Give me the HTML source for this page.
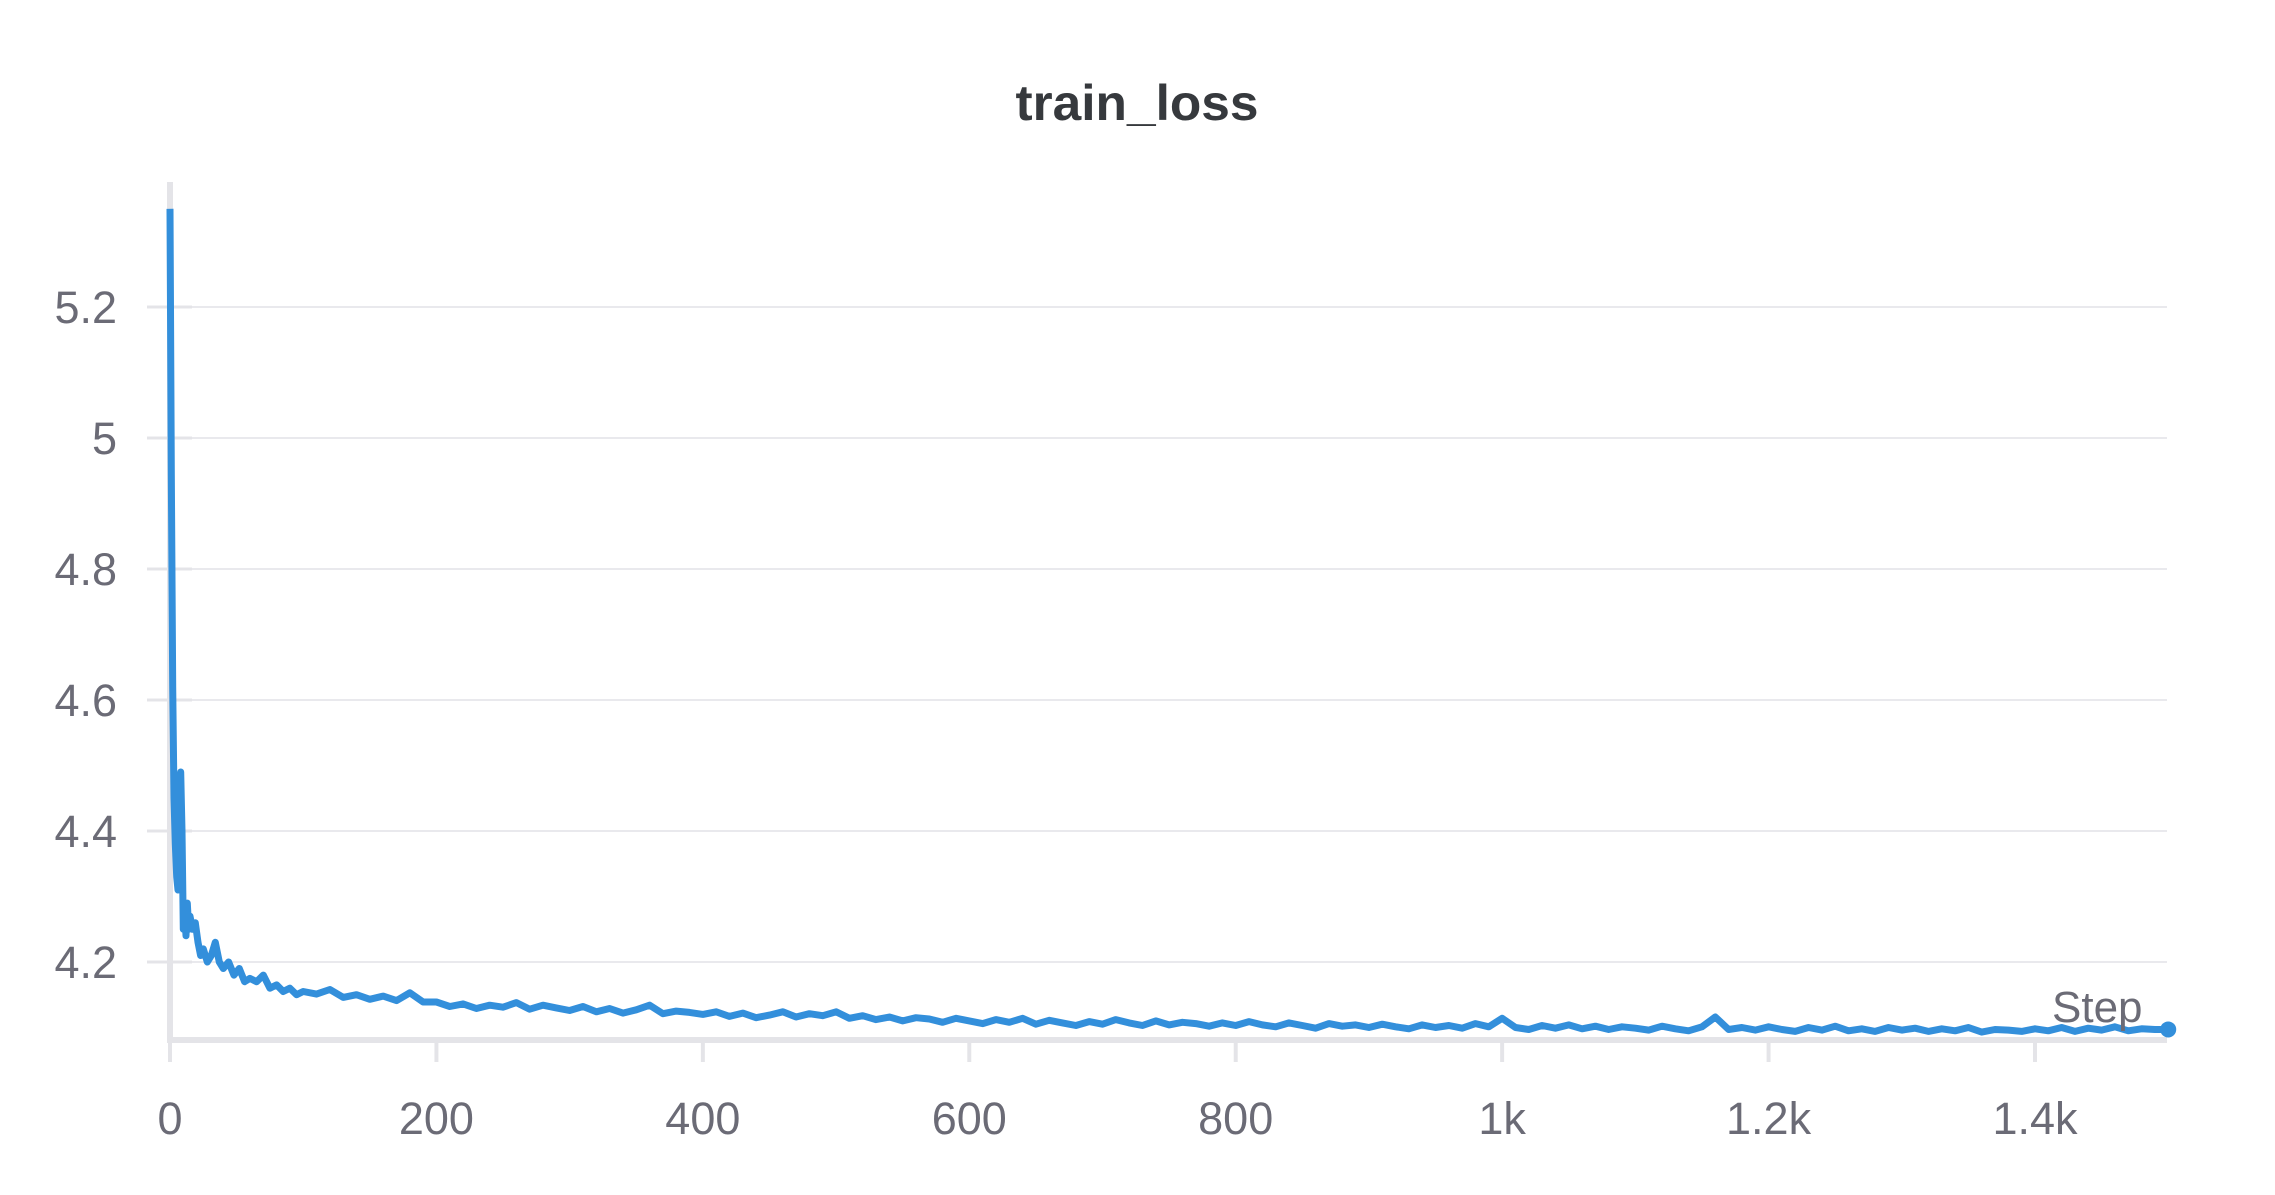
<!DOCTYPE html>
<html><head><meta charset="utf-8"><style>
html,body{margin:0;padding:0;background:#fff;}
svg{display:block;}
text{font-family:"Liberation Sans",sans-serif;}
</style></head><body>
<svg id="chart" width="2275" height="1195" viewBox="0 0 2275 1195" xmlns="http://www.w3.org/2000/svg">
<text x="1137" y="120" text-anchor="middle" font-size="50" font-weight="bold" fill="#36393d" textLength="243" lengthAdjust="spacingAndGlyphs">train_loss</text>
<g id="grid"></g>
<g id="axes"></g>
<g id="series"></g>
<text x="2052" y="1022" font-size="44" fill="#6b6b76">Step</text>
</svg>
<script>
const yTicks = [4.2, 4.4, 4.6, 4.8, 5, 5.2];
const yTickLabels = ["4.2", "4.4", "4.6", "4.8", "5", "5.2"];
const xTicks = [0, 200, 400, 600, 800, 1000, 1200, 1400];
const xTickLabels = ["0", "200", "400", "600", "800", "1k", "1.2k", "1.4k"];
const earlySteps = [0,1,2,3,4,5,6,7,8,9,10,11,12,13,14,15,17,19,21,23,25,28,31,34,37,40,44,48,52,56,60,65,70,75,80,85,90,95];
const earlyLoss = [5.35,4.95,4.62,4.45,4.38,4.33,4.31,4.40,4.49,4.40,4.25,4.28,4.24,4.29,4.25,4.27,4.25,4.26,4.23,4.21,4.22,4.20,4.21,4.23,4.20,4.19,4.20,4.18,4.19,4.17,4.175,4.17,4.18,4.16,4.165,4.155,4.16,4.15];
const lateStartStep = 100;
const lateStepInterval = 10;
const lateLoss = [
4.155,4.151,4.158,4.146,4.150,4.143,4.148,4.141,4.153,4.139,
4.139,4.132,4.136,4.129,4.134,4.131,4.138,4.128,4.134,4.130,
4.126,4.132,4.124,4.129,4.122,4.127,4.134,4.121,4.125,4.123,
4.120,4.124,4.117,4.122,4.115,4.119,4.124,4.116,4.121,4.118,
4.124,4.114,4.118,4.112,4.116,4.110,4.115,4.113,4.108,4.114,
4.110,4.106,4.112,4.108,4.114,4.105,4.111,4.107,4.103,4.109,
4.105,4.112,4.107,4.103,4.110,4.104,4.108,4.106,4.102,4.107,
4.103,4.109,4.104,4.101,4.107,4.103,4.099,4.106,4.102,4.104,
4.100,4.105,4.101,4.098,4.104,4.100,4.103,4.099,4.106,4.101,
4.114,4.100,4.097,4.103,4.099,4.104,4.098,4.102,4.097,4.101,
4.099,4.096,4.102,4.098,4.095,4.101,4.116,4.097,4.100,4.096,
4.101,4.097,4.094,4.100,4.096,4.102,4.095,4.098,4.094,4.100,
4.096,4.099,4.094,4.098,4.095,4.100,4.093,4.097,4.096,4.094,
4.098,4.095,4.100,4.094,4.099,4.096,4.101,4.095,4.098,4.097,4.097];

const NS = "http://www.w3.org/2000/svg";
const X0 = 170, PX_PER_STEP = 1865 / 1400;
const Y42 = 962, PX_PER_UNIT = 655;
function xScale(s){ return X0 + s * PX_PER_STEP; }
function yScale(v){ return Y42 - (v - 4.2) * PX_PER_UNIT; }
function mk(tag, attrs){ const e = document.createElementNS(NS, tag); for (const k in attrs) e.setAttribute(k, attrs[k]); return e; }

const grid = document.getElementById('grid');
yTicks.forEach((v, i) => {
  const y = yScale(v);
  const g = mk('line', {x1: 190, x2: 2167, y1: y, y2: y, stroke: '#e9e9ed', 'stroke-width': 2});
  
  
  grid.appendChild(g);
  const t = mk('line', {x1: 147, x2: 192, y1: y, y2: y, stroke: '#e4e4e8', 'stroke-width': 3});
  
  
  grid.appendChild(t);
  const lb = mk('text', {x: 117, y: y + 16, 'text-anchor': 'end', 'font-size': 45, fill: '#6b6b76'});
  lb.textContent = yTickLabels[i];
  
  
  grid.appendChild(lb);
});
const axes = document.getElementById('axes');
const ya = mk('line', {x1: 170, x2: 170, y1: 182, y2: 1043, stroke: '#e4e4e8', 'stroke-width': 6});


axes.appendChild(ya);
const xa = mk('line', {x1: 167, x2: 2167, y1: 1040, y2: 1040, stroke: '#e4e4e8', 'stroke-width': 6});


axes.appendChild(xa);
xTicks.forEach((s, i) => {
  const x = xScale(s);
  const t = mk('line', {x1: x, x2: x, y1: 1040, y2: 1062, stroke: '#e4e4e8', 'stroke-width': 4});
  
  
  axes.appendChild(t);
  const lb = mk('text', {x: x, y: 1134, 'text-anchor': 'middle', 'font-size': 45, fill: '#6b6b76'});
  lb.textContent = xTickLabels[i];
  
  
  axes.appendChild(lb);
});

const pts = [];
earlySteps.forEach((s, i) => pts.push([xScale(s), yScale(earlyLoss[i])]));
lateLoss.forEach((v, i) => pts.push([xScale(lateStartStep + i * lateStepInterval), yScale(v)]));
const series = document.getElementById('series');
const path = mk('polyline', {points: pts.map(p => p[0].toFixed(1) + ',' + p[1].toFixed(1)).join(' '), fill: 'none', stroke: '#338fdb', 'stroke-width': 7, 'stroke-linejoin': 'round'});


series.appendChild(path);
const last = pts[pts.length - 1];
const dot = mk('circle', {cx: last[0], cy: last[1], r: 8, fill: '#338fdb'});


series.appendChild(dot);
</script>
</body></html>
